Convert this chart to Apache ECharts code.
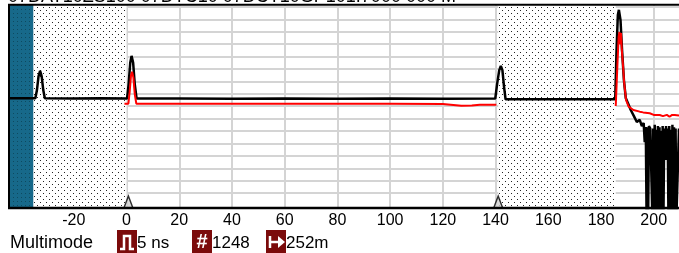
<!DOCTYPE html>
<html>
<head>
<meta charset="utf-8">
<script src="https://cdn.jsdelivr.net/npm/echarts@6/dist/echarts.min.js"></script>
<style>
html, body { margin: 0; padding: 0; background: #fff; }
#main { width: 679px; height: 253px; }
</style>
</head>
<body>
<div id="main"></div>
<script>
// trace data: [distance, level]
var blackTrace = [
    [-44.6, 8.64], [-34.6, 8.64], [-34.0, 9.3], [-33.4, 10.4], [-32.8, 10.84], [-32.2, 10.4], [-31.6, 9.3], [-31.0, 8.64],
    [-20, 8.62], [-10, 8.63], [0.2, 8.62], [0.8, 9.8], [1.4, 11.5], [1.9, 12.05], [2.5, 11.5], [3.1, 9.8], [3.8, 8.62],
    [20, 8.62], [40, 8.6], [60, 8.62], [80, 8.6], [100, 8.61], [120, 8.6], [139.9, 8.62],
    [140.6, 9.8], [141.4, 10.9], [142.0, 11.24], [142.6, 10.9], [143.2, 9.6], [143.8, 8.56],
    [160, 8.56], [185.4, 8.56],
    [185.9, 12.5], [186.4, 15.35], [186.8, 15.76], [187.4, 14.95], [188.0, 12.5], [188.7, 10.1], [189.4, 8.66],
    [190.2, 8.26], [191.3, 7.69], [192.5, 7.2], [193.6, 6.73], [194.7, 6.9], [195.5, 6.4], [196.2, 6.65],
    [196.6, 5.1], [197.0, 6.32],
    [197.3, -1], [197.6, 6.3], [197.9, -1], [198.2, 6.4], [198.7, 6.2], [199.2, 6.35], [199.5, -1], [199.8, 6.2],
    [200.1, -1], [200.4, 6.5], [200.7, -1], [201.0, 6.1], [201.3, -1], [201.6, 6.4], [201.9, -1], [202.2, 6.3],
    [202.5, -1], [202.8, 6.0], [203.1, -1], [203.4, 6.4], [203.7, -1], [204.0, 6.2], [204.3, 3.66], [204.7, 6.4],
    [205.0, 3.66], [205.3, 6.2], [205.6, -1], [205.9, 6.4], [206.2, -1], [206.5, 6.1], [206.8, -1], [207.1, 6.5],
    [207.4, -1], [207.7, 6.3], [208.0, -1], [208.3, 6.2], [208.6, -1], [209.6, 6.2]
];
var redNear = [
    [-0.8, 8.2], [0.7, 8.2], [1.2, 9.2], [1.7, 10.5], [2.1, 10.78], [2.6, 10.3], [3.1, 9.0], [3.7, 8.2],
    [20, 8.2], [40, 8.19], [60, 8.2], [80, 8.19], [100, 8.19], [120, 8.17], [124, 8.1], [127, 8.04],
    [131, 8.05], [134, 8.12], [140.3, 8.12]
];
var redFar = [
    [185.6, 8.02], [186.2, 11.16], [186.7, 13.58], [187.0, 13.98], [187.3, 13.0], [187.6, 13.9], [187.9, 12.53],
    [188.4, 11.16], [188.8, 9.87], [189.5, 8.5], [190.5, 7.96], [192.3, 7.69], [194.7, 7.56], [196, 7.5],
    [198.5, 7.43], [200, 7.3], [202.3, 7.29], [203.5, 7.2], [205, 7.3], [206, 7.15], [207, 7.3], [208, 7.29], [209.6, 7.25]
];

var launchZone = [-44.6, -35.3];
var deadZones = [[-35.3, 0], [141, 185.6]];
var eventMarks = [0.7, 141];
var xTicks = [-40, -20, 0, 20, 40, 60, 80, 100, 120, 140, 160, 180, 200];
var xLabels = [-20, 0, 20, 40, 60, 80, 100, 120, 140, 160, 180, 200];
var yGrid = [1, 2, 3, 4, 5, 6, 7, 8, 9, 10, 11, 12, 13, 14, 15, 16];

var titleText = '07DAT10ZS100 07DTC10 07DCT10GP101.7000 000 M';
var modeText = 'Multimode';
var infoItems = [
    { icon: 'pulse', text: '5 ns', x: 117 },
    { icon: 'hash', text: '1248', x: 192 },
    { icon: 'range', text: '252m', x: 266 }
];

// dotted fill patterns
function dotPattern(bg, dot, w, h, pts) {
    var c = document.createElement('canvas');
    c.width = w; c.height = h;
    var g = c.getContext('2d');
    g.fillStyle = bg;
    g.fillRect(0, 0, w, h);
    g.fillStyle = dot;
    pts.forEach(function (p) { g.fillRect(p[0], p[1], 1, 1); });
    return { image: c, repeat: 'repeat' };
}
var hatch = dotPattern('#ffffff', '#222222', 6, 6, [[1, 1], [4, 4]]);
var tealHatch = dotPattern('#17698a', '#0e4a60', 4, 4, [[1, 1]]);

var myChart = echarts.init(document.getElementById('main'));

var iconGraphics = [];
infoItems.forEach(function (it) {
    var children = [{ type: 'rect', shape: { x: 0, y: 0, width: 20, height: 24 }, style: { fill: '#7b0b0b' } }];
    if (it.icon === 'pulse') {
        children.push({ type: 'polyline', shape: { points: [[3, 19], [7, 19], [7, 6], [13, 6], [13, 19], [17, 19]] },
            style: { stroke: '#fff', lineWidth: 2.5, fill: null } });
    } else if (it.icon === 'hash') {
        children.push({ type: 'text', x: 10, y: 12, style: { text: '#', fill: '#fff', font: 'bold 20px "Liberation Sans", Arial', align: 'center', verticalAlign: 'middle' } });
    } else {
        children.push({ type: 'line', shape: { x1: 4, y1: 6, x2: 4, y2: 18 }, style: { stroke: '#fff', lineWidth: 2.5 } });
        children.push({ type: 'line', shape: { x1: 4, y1: 12, x2: 14, y2: 12 }, style: { stroke: '#fff', lineWidth: 2.5 } });
        children.push({ type: 'polygon', shape: { points: [[12, 6], [19, 12], [12, 18]] }, style: { fill: '#fff' } });
    }
    iconGraphics.push({ type: 'group', x: it.x, y: 230, children: children });
    iconGraphics.push({ type: 'text', x: it.x + 20, y: 243,
        style: { text: it.text, fill: '#000', font: '17px "Liberation Sans", Arial', verticalAlign: 'middle' } });
});

var option = {
    animation: false,
    grid: { left: 9, right: -3, top: 5, bottom: 45 },
    xAxis: {
        type: 'value',
        min: -44.6,
        max: 209.6,
        axisLine: { show: false },
        axisTick: { show: false, customValues: xTicks },
        axisLabel: { customValues: xLabels, color: '#000', fontSize: 16, margin: 5, fontFamily: 'Liberation Sans' },
        splitLine: { show: true, lineStyle: { color: '#d4d4d4', width: 2 } }
    },
    yAxis: {
        type: 'value',
        min: -0.2,
        max: 16.15,
        axisLine: { show: false },
        axisTick: { show: false, customValues: yGrid },
        axisLabel: { show: false, customValues: yGrid },
        splitLine: { show: true, lineStyle: { color: '#d4d4d4', width: 2 } }
    },
    series: [
        {
            type: 'line', data: [], z: 1,
            markArea: {
                silent: true,
                itemStyle: { color: hatch, opacity: 1 },
                data: [
                    [{ xAxis: launchZone[0], itemStyle: { color: tealHatch, opacity: 1 } }, { xAxis: launchZone[1] }],
                    [{ xAxis: deadZones[0][0] }, { xAxis: deadZones[0][1] }],
                    [{ xAxis: deadZones[1][0] }, { xAxis: deadZones[1][1] }]
                ]
            }
        },
        { name: 'ref', type: 'line', data: blackTrace, showSymbol: false, z: 3,
          lineStyle: { color: '#000', width: 2.5 } },
        { name: 'cur1', type: 'line', data: redNear, showSymbol: false, z: 4,
          lineStyle: { color: '#ff0000', width: 2 } },
        { name: 'cur2', type: 'line', data: redFar, showSymbol: false, z: 4,
          lineStyle: { color: '#ff0000', width: 2 } },
        { type: 'scatter', z: 5, symbol: 'triangle', symbolSize: [9, 12], symbolOffset: [0, -6],
          itemStyle: { color: '#d0d0d0', borderColor: '#000', borderWidth: 1.5 },
          data: eventMarks.map(function (v) { return [v, -0.2]; }) }
    ],
    graphic: [
        { type: 'line', z: 100, shape: { x1: 8, y1: 4.8, x2: 679, y2: 4.8 }, style: { stroke: '#000', lineWidth: 2 } },
        { type: 'line', z: 100, shape: { x1: 9, y1: 4, x2: 9, y2: 209 }, style: { stroke: '#000', lineWidth: 2 } },
        { type: 'line', z: 100, shape: { x1: 8, y1: 208, x2: 679, y2: 208 }, style: { stroke: '#000', lineWidth: 2.5 } },
        { type: 'text', z: 100, x: 8, y: -2.5,
          style: { text: titleText, fill: '#000', font: '18px "Liberation Sans", Arial', verticalAlign: 'middle' } },
        { type: 'text', z: 100, x: 10, y: 243,
          style: { text: modeText, fill: '#000', font: '18px "Liberation Sans", Arial', verticalAlign: 'middle' } }
    ].concat(iconGraphics)
};

myChart.setOption(option);
</script>
</body>
</html>
